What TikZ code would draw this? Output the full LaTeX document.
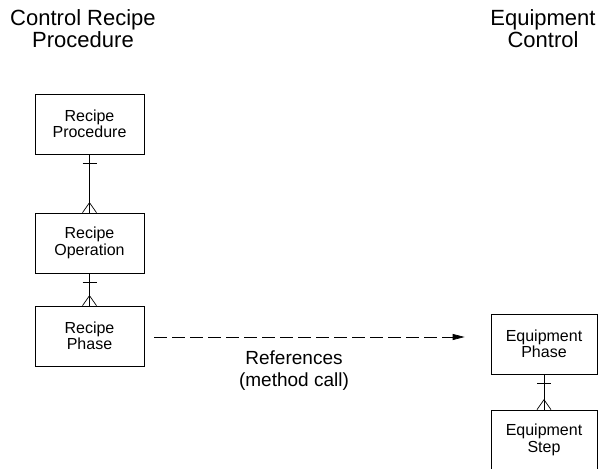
\documentclass[tikz,border=0pt]{standalone}
\usepackage{fontspec}
\setmainfont{Liberation Sans}
\usetikzlibrary{arrows.meta,positioning}

% one-to-many link: bar under the parent, crow's foot on the child
\newcommand{\crowlink}[2]{%
  \draw (#1.south) -- (#2.north);
  \draw ([shift={(-7pt,-9pt)}]#1.south) -- ([shift={(7pt,-9pt)}]#1.south);
  \draw ([xshift=-7pt]#2.north) -- ([yshift=10pt]#2.north) -- ([xshift=7pt]#2.north);}

\begin{document}
\begin{tikzpicture}[x=1pt,y=-1pt,line width=0.7pt,>={Triangle[length=12pt,width=6pt]},
  unit/.style={draw,minimum width=109pt,minimum height=60pt,inner sep=0pt,align=center,
    font=\fontsize{16}{16.5}\selectfont},
  heading/.style={align=center,font=\fontsize{22}{22}\selectfont},
  note/.style={align=center,font=\fontsize{19}{22}\selectfont}]
\useasboundingbox (0,0) rectangle (598,469);
\clip (0,0) rectangle (598,469);
% column titles
\node[heading] (crp) at (83,29) {Control Recipe\\Procedure};
\node[heading] (ec) at (543,29) {Equipment\\Control};
% recipe side
\node[unit] (rproc) at (89.5,124) {Recipe\\Procedure};
\node[unit] (roper) at (89.5,243) {Recipe\\Operation};
\node[unit] (rphase) at (89.5,336) {Recipe\\Phase};
% equipment side
\node[unit,minimum width=106pt] (ephase) at (544,344) {Equipment\\Phase};
\node[unit,minimum width=106pt] (estep) at (544,440) {Equipment\\Step};
% links
\crowlink{rproc}{roper}
\crowlink{roper}{rphase}
\crowlink{ephase}{estep}
% method call
\draw[->,dash pattern=on 12.5pt off 5.5pt,shorten <=10pt,shorten >=26pt]
  ([yshift=-1pt]rphase.east) -- ([yshift=-1pt]rphase.east -| ephase.west);
\node[note] (call) at (294,371) {References\\(method call)};
\end{tikzpicture}
\end{document}
